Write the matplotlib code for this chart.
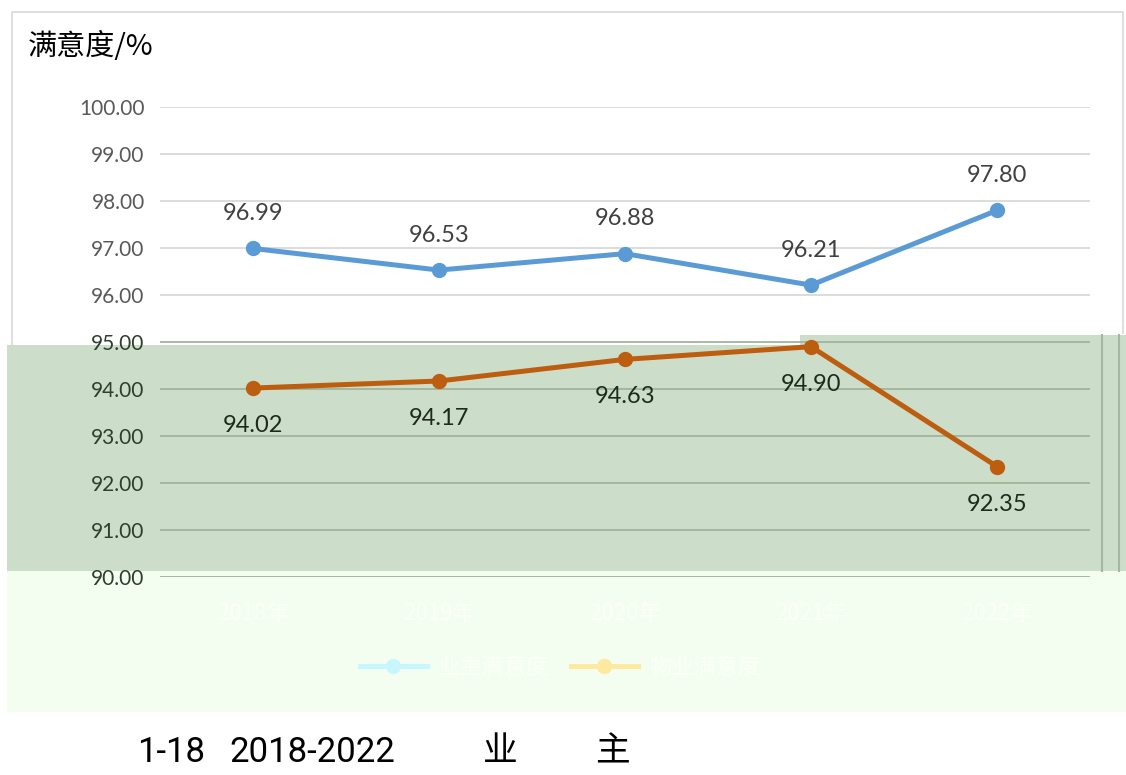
#!/usr/bin/env python3

import matplotlib
matplotlib.use('Agg')
import matplotlib.pyplot as plt
from matplotlib.patches import Rectangle, Polygon

# data
years = ['2018年', '2019年', '2020年', '2021年', '2022年']
ownerSat = [96.99, 96.53, 96.88, 96.21, 97.80]
propSat = [94.02, 94.17, 94.63, 94.90, 92.35]
seriesNames = ['业主满意度', '物业满意度']
yTicks = [90, 91, 92, 93, 94, 95, 96, 97, 98, 99, 100]

W, H = 1126, 775
numFont = ['Lato', 'DejaVu Sans']
cjkFont = ['Noto Sans CJK SC', 'DejaVu Sans']
capFont = ['Roboto', 'DejaVu Sans']


def fx(px):
    return px / W


def fy(py):
    return 1 - py / H


fig = plt.figure(figsize=(W / 100, H / 100), dpi=100)
fig.patch.set_facecolor('white')

# chart frame (upper, undamaged part)
fig.add_artist(Polygon([(fx(12), fy(345)), (fx(12), fy(12)), (fx(1123), fy(12)), (fx(1123), fy(334))],
                       closed=False, fill=False, edgecolor='#D9D9D9', lw=1.2, zorder=-2,
                       transform=fig.transFigure))
# green band
fig.add_artist(Polygon([(fx(7), fy(345)), (fx(800), fy(345)), (fx(800), fy(335)), (fx(1126), fy(335)),
                        (fx(1126), fy(571)), (fx(7), fy(571))],
                       closed=True, facecolor='#CCDEC9', edgecolor='none', zorder=-1,
                       transform=fig.transFigure))
# pale band
fig.add_artist(Rectangle((fx(7), fy(712)), fx(1126) - fx(7), fy(571) - fy(712),
                         facecolor='#F3FEF1', edgecolor='none', zorder=-1, transform=fig.transFigure))
for xv in [1102, 1119]:
    fig.add_artist(plt.Line2D([fx(xv), fx(xv)], [fy(571), fy(335)], color='#A3B89F', lw=1.5,
                              zorder=-0.5, transform=fig.transFigure))

ax = fig.add_axes([fx(160), fy(577), fx(1090) - fx(160), fy(107) - fy(577)])
ax.set_facecolor('none')
ax.set_ylim(90, 100)
ax.set_xlim(-0.5, len(years) - 0.5)
ax.set_yticks(yTicks)
ax.set_yticklabels([f'{v:.2f}' for v in yTicks], fontsize=15, family=numFont)
for lbl, v in zip(ax.get_yticklabels(), yTicks):
    lbl.set_color('#595959' if v > 95 else '#2F3E2D')
ax.tick_params(axis='y', length=0, pad=11)

for v in yTicks:
    ax.axhline(v, color='#D9D9D9' if v > 95 else '#9FB49B', lw=1.3, zorder=1)

xs = range(len(years))
ax.set_xticks(list(xs))
ax.set_xticklabels(years, fontsize=16, family=cjkFont, color='#FBFFF6')
ax.tick_params(axis='x', length=0, pad=18)
for s in ax.spines.values():
    s.set_visible(False)

ax.plot(xs, ownerSat, color='#5B9BD5', lw=3.6, marker='o', markersize=10, zorder=3,
        label=seriesNames[0])
ax.plot(xs, propSat, color='#BD5D0F', lw=3.6, marker='o', markersize=10, zorder=3,
        label=seriesNames[1])

for x, v in zip(xs, ownerSat):
    ax.annotate(f'{v:.2f}', (x, v), xytext=(0, 25), textcoords='offset points', ha='center',
                va='center', fontsize=17, family=numFont, color='#404040')
for x, v in zip(xs, propSat):
    ax.annotate(f'{v:.2f}', (x, v), xytext=(0, -27), textcoords='offset points', ha='center',
                va='center', fontsize=17, family=numFont, color='#1E2A1C')

# legend, washed out like the rest of the lower band
h1 = plt.Line2D([], [], color='#C8F6FF', lw=3.6, marker='o', markersize=10)
h2 = plt.Line2D([], [], color='#FFE8A0', lw=3.6, marker='o', markersize=10)
leg = fig.legend([h1, h2], seriesNames, loc='center', bbox_to_anchor=(fx(560), fy(667)), ncol=2,
                 frameon=False, prop={'family': cjkFont, 'size': 16}, handlelength=3,
                 columnspacing=1.0, handletextpad=0.5)
for t in leg.get_texts():
    t.set_color('#FBFFF6')

fig.text(fx(28), fy(47), '满意度/%', fontsize=21, family=cjkFont,
         color='black', ha='left', va='center')

# caption under the chart
fig.text(fx(137), fy(752), '1-18', fontsize=25, family=capFont, ha='left', va='center')
fig.text(fx(229), fy(752), '2018-2022', fontsize=25, family=capFont, ha='left', va='center')
fig.text(fx(500), fy(752), '业', fontsize=25, family=cjkFont, ha='center', va='center')
fig.text(fx(612), fy(752), '主', fontsize=25, family=cjkFont, ha='center', va='center')

fig.savefig('out.png', dpi=100)
